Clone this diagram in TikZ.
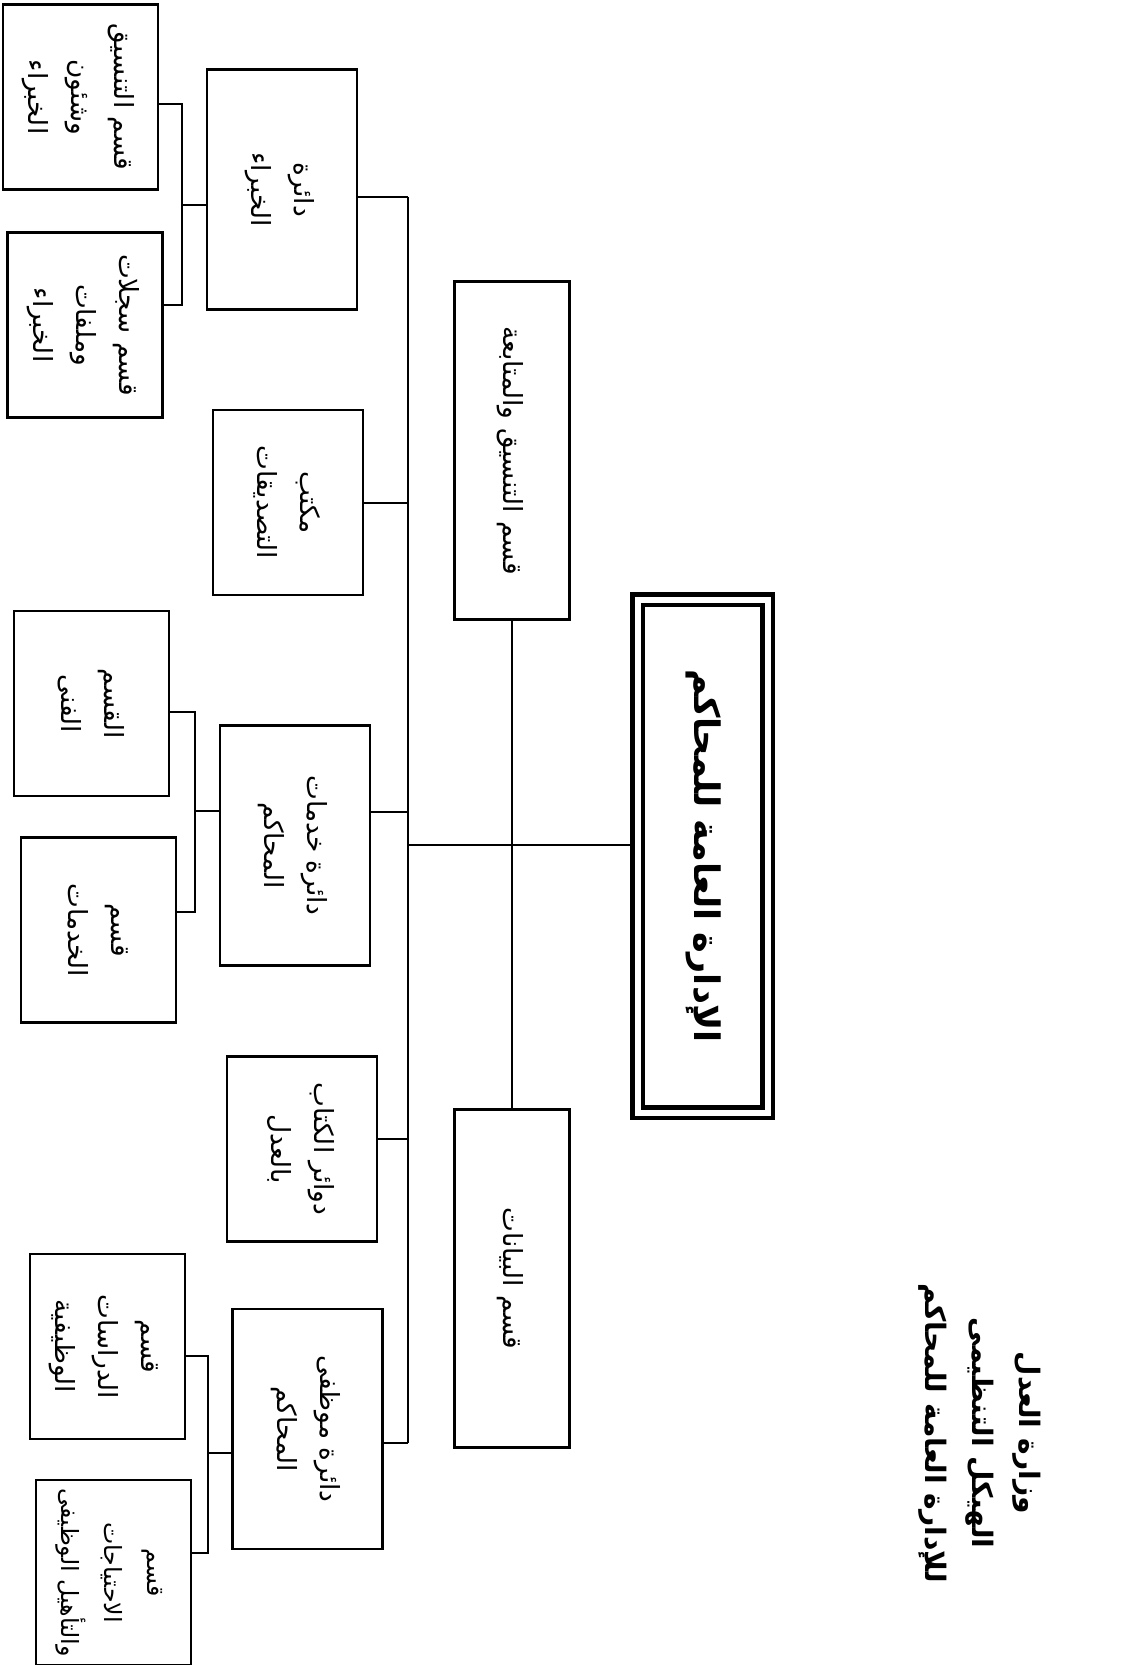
\documentclass[tikz,border=0pt]{standalone}
\usepackage{fontspec}
\newfontfamily\arabicfont[Script=Arabic]{DejaVu Sans}
\TeXXeTstate=1
\usepackage{tikz}

\newcommand{\rl}[1]{\beginR#1\endR}
\newcommand{\vtext}[1]{\rotatebox{-90}{\begin{tabular}{@{}c@{}}#1\end{tabular}}}

\begin{document}
\begin{tikzpicture}[
  x=1mm, y=-1mm,
  font=\arabicfont\fontsize{15}{24.5}\selectfont,
  unit/.style={draw, line width=1.5pt, inner sep=0pt, minimum width=31mm, minimum height=37mm},
  dept/.style={unit, minimum width=30mm},
  tall/.style={dept, minimum height=48mm},
  side/.style={unit, minimum width=23mm, minimum height=67.6mm},
  head/.style={draw, line width=0.9mm, double, double distance=1.2mm, inner sep=0pt,
    minimum width=26mm, minimum height=102.6mm, font=\arabicfont\bfseries\fontsize{20}{24}\selectfont},
  heading/.style={font=\arabicfont\bfseries\fontsize{16}{27}\selectfont},
  link/.style={line width=1.1pt}
]
\useasboundingbox (0,0) rectangle (225.2,333);

\node[unit] (tansiq) at (16.1,19.4) {\vtext{\rl{قسم التنسيق}\\\rl{وشئون}\\\rl{الخبراء}}};
\node[unit] (sijillat) at (17,65) {\vtext{\rl{قسم سجلات}\\\rl{وملفات}\\\rl{الخبراء}}};
\node[tall] (khubara) at (56.4,37.9) {\vtext{\rl{دائرة}\\\rl{الخبراء}}};
\node[dept] (tasdiqat) at (57.6,100.5) {\vtext{\rl{مكتب}\\\rl{التصديقات}}};
\node[unit] (fanni) at (18.3,140.7) {\vtext{\rl{القسم}\\\rl{الفنى}}};
\node[tall] (khidmat) at (59,169.1) {\vtext{\rl{دائرة خدمات}\\\rl{المحاكم}}};
\node[unit] (khadamat) at (19.7,186) {\vtext{\rl{قسم}\\\rl{الخدمات}}};
\node[dept] (kuttab) at (60.4,229.8) {\vtext{\rl{دوائر الكتاب}\\\rl{بالعدل}}};
\node[unit] (dirasat) at (21.5,269.3) {\vtext{\rl{قسم}\\\rl{الدراسات}\\\rl{الوظيفية}}};
\node[unit, font=\arabicfont\fontsize{13.5}{24.5}\selectfont] (ihtiyajat) at (22.7,314.5)
  {\vtext{\rl{قسم}\\\rl{الاحتياجات}\\\rl{والتأهيل الوظيفى}}};
\node[tall] (muwazzafi) at (61.5,285.8) {\vtext{\rl{دائرة موظفى}\\\rl{المحاكم}}};
\node[side] (mutabaa) at (102.4,90.1) {\vtext{\rl{قسم التنسيق والمتابعة}}};
\node[side] (bayanat) at (102.4,255.7) {\vtext{\rl{قسم البيانات}}};
\node[head] (idara) at (140.5,171.2) {\vtext{\rl{الإدارة العامة للمحاكم}}};
\node[heading] (title) at (196.4,286.6) {\vtext{\rl{وزارة العدل}\\\rl{الهيكل التنظيمى}\\\rl{للإدارة العامة للمحاكم}}};

\coordinate (stop) at (81.6,39.4);
\coordinate (sbot) at (81.6,288.6);
\coordinate (shead) at (81.6,169);
\draw[link] (stop) -- (sbot);
\foreach \n/\y in {khubara/39.4, tasdiqat/100.6, khidmat/162.4, kuttab/227.8, muwazzafi/288.6} {
  \coordinate (s) at (81.6,\y);
  \draw[link] (\n.east |- s) -- (s);
}
\draw[link] (shead) -- (idara.west |- shead);
\draw[link] (mutabaa.south) -- (bayanat.north);

\foreach \up/\down/\parent/\x/\ya/\yb/\ym in {tansiq/sijillat/khubara/36.4/20.8/61/41,
    fanni/khadamat/khidmat/39/142.4/182.4/162.2,
    dirasat/ihtiyajat/muwazzafi/41.6/271.2/310.6/290.6} {
  \coordinate (ja) at (\x,\ya);
  \coordinate (jb) at (\x,\yb);
  \coordinate (jm) at (\x,\ym);
  \draw[link] (\up.east |- ja) -- (ja) -- (jb) -- (\down.east |- jb);
  \draw[link] (jm) -- (\parent.west |- jm);
}
\end{tikzpicture}
\end{document}
